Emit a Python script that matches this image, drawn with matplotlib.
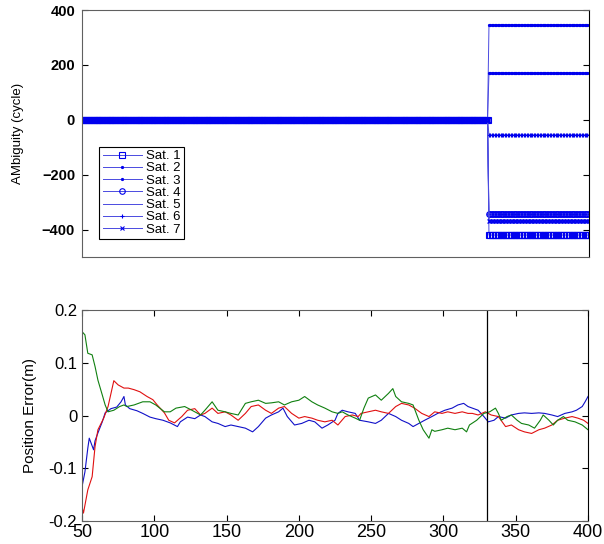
import numpy as np
import matplotlib
matplotlib.use("Agg")
import matplotlib.pyplot as plt
from matplotlib.ticker import FuncFormatter

plt.rcParams['font.family'] = ['Liberation Sans', 'DejaVu Sans']

# ----------------------------------------
# Data: ambiguity per satellite (cycles)
# ----------------------------------------
epoch_start, epoch_fix, epoch_end = 50, 330, 400
sat_names = ['Sat. 1', 'Sat. 2', 'Sat. 3', 'Sat. 4', 'Sat. 5', 'Sat. 6', 'Sat. 7']
sat_markers = ['s', '.', '.', 'o', 'None', '+', 'x']
ambiguity_before = [0, 0, 0, 0, 0, 0, 0]
ambiguity_after = [-420, 345, 170, -345, -370, -55, -370]

# ----------------------------------------
# Data: position error (m)
# ----------------------------------------
blue_epoch = [50, 52, 54, 55, 58, 59, 61, 64, 66, 70, 74, 77, 79, 80, 83, 88, 92, 97, 101,
              106, 111, 116, 118, 123, 128, 132, 135, 140, 144, 149, 153, 158, 163, 168, 172,
              177, 181, 186, 189, 192, 197, 202, 207, 211, 216, 220, 225, 227, 230, 234, 239,
              242, 248, 253, 257, 262, 267, 271, 276, 279, 283, 287, 292, 296, 301, 306, 310,
              314, 317, 320, 324, 328, 331, 335, 338, 343, 347, 352, 356, 361, 366, 370, 375,
              379, 384, 389, 392, 396, 398, 400]
blue_err = [-0.135, -0.107, -0.062, -0.043, -0.065, -0.048, -0.033, -0.012, 0.005, 0.013, 0.016,
            0.026, 0.036, 0.020, 0.013, 0.009, 0.004, -0.003, -0.006, -0.009, -0.014, -0.021,
            -0.012, -0.003, -0.006, 0.001, -0.002, -0.012, -0.015, -0.021, -0.018, -0.021,
            -0.024, -0.031, -0.021, -0.005, 0.001, 0.007, 0.014, -0.002, -0.018, -0.015, -0.009,
            -0.012, -0.024, -0.018, -0.009, 0.004, 0.010, 0.007, 0.004, -0.009, -0.012, -0.015,
            -0.009, 0.004, -0.002, -0.009, -0.015, -0.021, -0.015, -0.009, -0.002, 0.004, 0.010,
            0.014, 0.020, 0.023, 0.017, 0.014, 0.010, -0.002, -0.012, -0.009, -0.002, -0.005,
            0.001, 0.004, 0.005, 0.004, 0.005, 0.004, 0.001, -0.002, 0.004, 0.007, 0.010, 0.017,
            0.026, 0.036]

red_epoch = [50, 51, 54, 57, 59, 61, 65, 68, 72, 75, 79, 82, 86, 90, 95, 99, 102, 107, 110,
             114, 119, 123, 128, 132, 135, 140, 144, 149, 153, 158, 163, 167, 172, 177, 181, 186,
             190, 195, 200, 204, 209, 213, 218, 223, 227, 232, 237, 241, 243, 248, 253, 257, 262,
             267, 271, 276, 280, 285, 290, 294, 299, 303, 308, 313, 317, 320, 324, 329, 333, 338,
             343, 347, 352, 356, 361, 366, 370, 375, 379, 384, 389, 393, 397, 400]
red_err = [-0.173, -0.185, -0.141, -0.116, -0.059, -0.027, -0.005, 0.017, 0.066, 0.058, 0.052,
           0.052, 0.049, 0.045, 0.036, 0.030, 0.020, 0.005, -0.009, -0.014, -0.002, 0.010, 0.013,
           0.001, 0.004, 0.014, 0.004, 0.007, 0.001, -0.009, 0.004, 0.017, 0.020, 0.010, 0.004,
           0.014, 0.017, 0.004, -0.005, -0.002, -0.005, -0.009, -0.012, -0.009, -0.018, -0.002,
           0.001, -0.002, 0.004, 0.007, 0.010, 0.007, 0.004, 0.017, 0.023, 0.020, 0.014, 0.004,
           -0.002, 0.007, 0.004, 0.007, 0.004, 0.007, 0.004, 0.004, 0.001, 0.007, 0.001, -0.002,
           -0.021, -0.018, -0.027, -0.031, -0.034, -0.027, -0.024, -0.018, -0.009, -0.005,
           -0.002, -0.005, -0.009, -0.015]

green_epoch = [50, 52, 54, 57, 59, 61, 64, 66, 68, 72, 76, 79, 81, 86, 92, 97, 101, 107, 111,
               115, 121, 126, 132, 135, 140, 144, 149, 153, 158, 163, 167, 172, 177, 181, 186,
               190, 195, 200, 204, 209, 213, 218, 223, 227, 230, 234, 239, 242, 245, 248, 253,
               257, 262, 265, 267, 271, 276, 279, 283, 286, 290, 292, 294, 299, 303, 308, 313,
               316, 318, 323, 328, 332, 336, 338, 340, 344, 347, 351, 354, 359, 363, 367, 369,
               373, 376, 379, 383, 386, 391, 396, 400]
green_err = [0.159, 0.153, 0.118, 0.115, 0.093, 0.067, 0.039, 0.020, 0.007, 0.010, 0.017, 0.020,
             0.017, 0.020, 0.026, 0.026, 0.020, 0.007, 0.007, 0.014, 0.017, 0.010, 0.001, 0.010,
             0.026, 0.010, 0.007, 0.004, 0.001, 0.023, 0.026, 0.029, 0.023, 0.024, 0.026, 0.020,
             0.026, 0.029, 0.036, 0.026, 0.020, 0.014, 0.007, 0.004, 0.007, 0.001, -0.005, -0.009,
             0.014, 0.033, 0.039, 0.029, 0.042, 0.051, 0.036, 0.026, 0.023, 0.020, -0.009, -0.027,
             -0.043, -0.027, -0.030, -0.027, -0.024, -0.027, -0.024, -0.031, -0.018, -0.009,
             0.004, 0.007, 0.014, 0.004, -0.009, -0.002, 0.001, -0.009, -0.015, -0.018, -0.024,
             -0.009, 0.001, -0.009, -0.018, -0.009, -0.002, -0.009, -0.012, -0.018, -0.027]

# ----------------------------------------
# Figure
# ----------------------------------------
fig = plt.figure(figsize=(6.04, 5.44), dpi=100)
ax1 = fig.add_axes([0.1358, 0.5276, 0.8392, 0.4540])
ax2 = fig.add_axes([0.1358, 0.0423, 0.8377, 0.3878])

epochs = np.arange(epoch_start, epoch_end + 1)
for name, mk, v0, v1 in zip(sat_names, sat_markers, ambiguity_before, ambiguity_after):
    vals = np.where(epochs <= epoch_fix, v0, v1)
    ms = 4 if mk in ('s', 'o') else 3
    ax1.plot(epochs, vals, color='#4a4ae0', lw=0.7, marker=mk, markersize=ms,
             markeredgecolor='#0000ee', markerfacecolor='none' if mk in ('s', 'o') else '#0000ee',
             markeredgewidth=0.8, label=name)

ax1.set_xlim(epoch_start, epoch_end)
ax1.set_ylim(-500, 400)
ax1.set_yticks([-400, -200, 0, 200, 400])
ax1.set_xticks([])
ax1.tick_params(axis='y', direction='in', right=True, length=4, labelsize=10.5, pad=5)
for lbl in ax1.get_yticklabels():
    lbl.set_fontweight('bold')
ax1.set_ylabel('AMbiguity (cycle)', fontsize=9.5, labelpad=13)
leg = ax1.legend(loc='lower left', bbox_to_anchor=(0.034, 0.073), borderaxespad=0,
                 fontsize=9.5, handlelength=3.0, handletextpad=0.3, labelspacing=0.0,
                 borderpad=0.25, fancybox=False, framealpha=1, edgecolor='black')
leg.get_frame().set_linewidth(0.8)

ax2.plot(blue_epoch, blue_err, color='#1010c8', lw=0.8)
ax2.plot(red_epoch, red_err, color='#e01010', lw=0.8)
ax2.plot(green_epoch, green_err, color='#108010', lw=0.8)
ax2.axvline(epoch_fix, color='black', lw=0.9)

ax2.set_xlim(epoch_start, epoch_end)
ax2.set_ylim(-0.2, 0.2)
ax2.set_xticks(np.arange(50, 401, 50))
ax2.set_yticks([-0.2, -0.1, 0, 0.1, 0.2])
ax2.yaxis.set_major_formatter(FuncFormatter(lambda v, p: '0' if abs(v) < 1e-9 else f'{v:g}'))
ax2.tick_params(direction='in', top=True, right=True, length=4, labelsize=12)
ax2.tick_params(axis='x', labelsize=13, pad=2)
ax2.set_ylabel('Position Error(m)', fontsize=11, labelpad=8)

for ax in (ax1, ax2):
    for sp in ax.spines.values():
        sp.set_color('#606060')
        sp.set_linewidth(0.8)
    ax.spines['right'].set_color('black')

fig.savefig('out.png', dpi=100)
